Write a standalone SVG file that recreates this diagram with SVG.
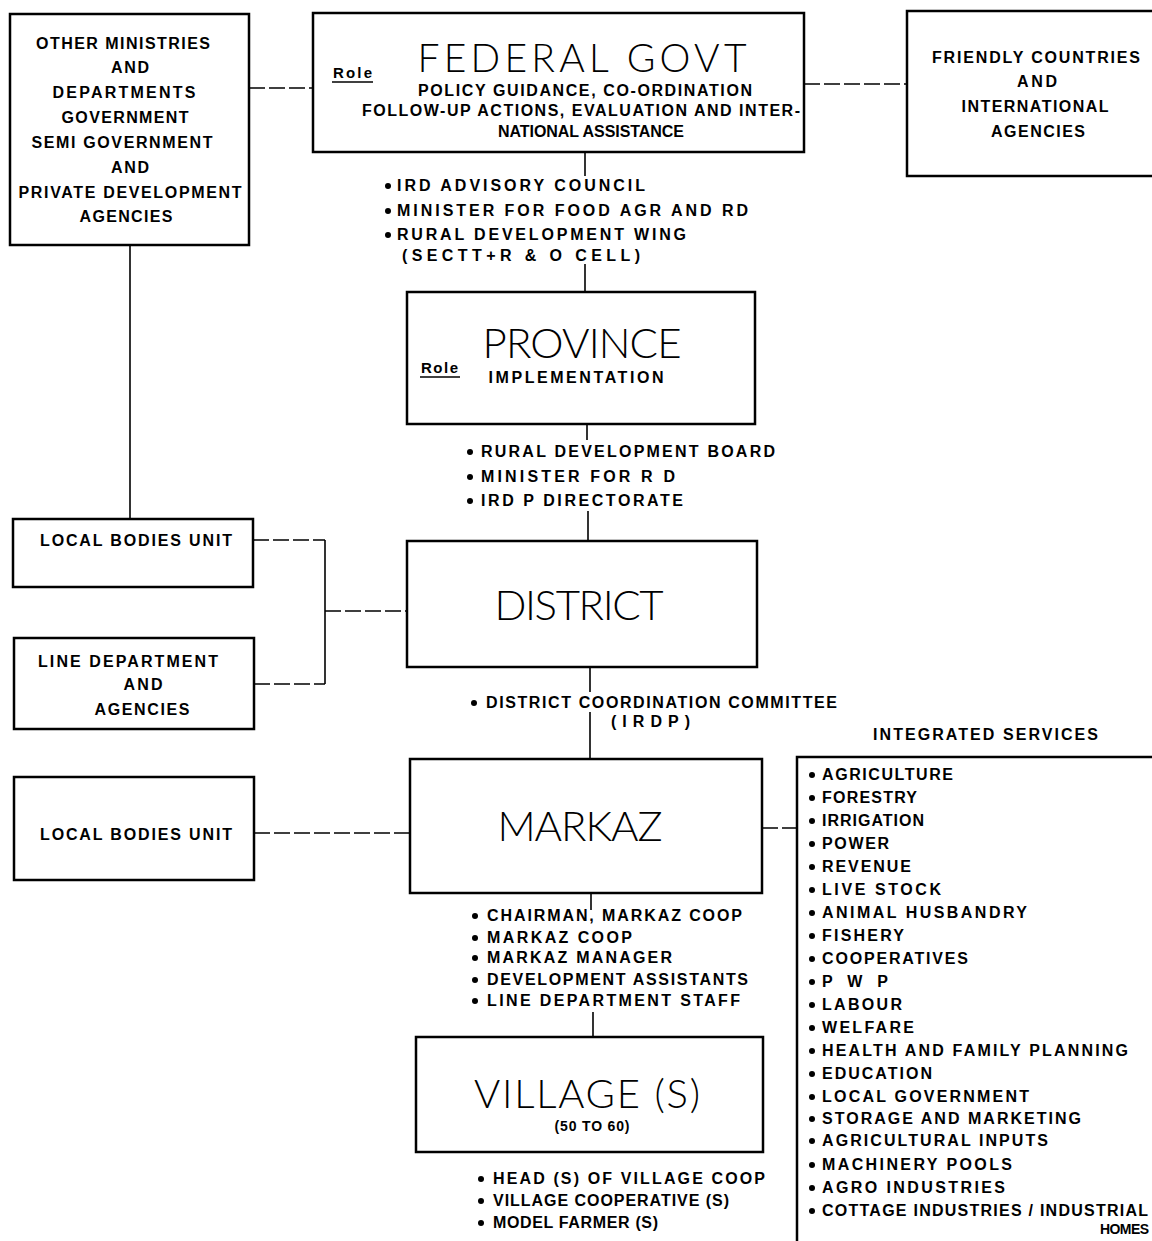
<svg xmlns="http://www.w3.org/2000/svg" width="1152" height="1241" viewBox="0 0 1152 1241">
<style>
.box{fill:#fff;stroke:#000;stroke-width:2.5}
.c{fill:none;stroke:#000;stroke-width:1.6}
.d{stroke-dasharray:16 4}
.t{font-family:"Liberation Sans",Arial,sans-serif;font-weight:bold;font-size:16px;fill:#000}
.m{text-anchor:middle}
.big{font-family:Lato,"DejaVu Sans","Liberation Sans",sans-serif;font-weight:300;font-size:42px;fill:#000;text-anchor:middle}
.b{fill:#000}
</style>
<rect width="1152" height="1241" fill="#fff"/>
<g id="connectors">
<line class="c d" x1="249" y1="88" x2="313" y2="88"/>
<line class="c d" x1="804" y1="84" x2="907" y2="84"/>
<line class="c" x1="585" y1="152" x2="585" y2="176"/>
<line class="c" x1="585" y1="264" x2="585" y2="292"/>
<line class="c" x1="587" y1="424" x2="587" y2="440"/>
<line class="c" x1="588" y1="511" x2="588" y2="541"/>
<line class="c" x1="130" y1="245" x2="130" y2="519"/>
<line class="c d" x1="253" y1="540" x2="325" y2="540"/>
<line class="c" x1="325" y1="540" x2="325" y2="684"/>
<line class="c d" x1="254" y1="684" x2="325" y2="684"/>
<line class="c d" x1="325" y1="611" x2="407" y2="611"/>
<line class="c" x1="590" y1="667" x2="590" y2="692"/>
<line class="c" x1="590" y1="712" x2="590" y2="759"/>
<line class="c d" x1="254" y1="833" x2="410" y2="833"/>
<line class="c d" x1="762" y1="828" x2="797" y2="828"/>
<line class="c" x1="591" y1="893" x2="591" y2="910"/>
<line class="c" x1="593" y1="1012" x2="593" y2="1037"/>
</g>
<g id="other-ministries">
<rect class="box" x="10" y="14" width="239" height="231"/>
<text class="t m" x="123" y="49" textLength="174">OTHER MINISTRIES</text>
<text class="t m" x="130" y="73" textLength="38">AND</text>
<text class="t m" x="124" y="98" textLength="143">DEPARTMENTS</text>
<text class="t m" x="125" y="123" textLength="127">GOVERNMENT</text>
<text class="t m" x="122" y="148" textLength="181">SEMI GOVERNMENT</text>
<text class="t m" x="130" y="173" textLength="38">AND</text>
<text class="t m" x="130" y="198" textLength="223">PRIVATE DEVELOPMENT</text>
<text class="t m" x="126" y="222" textLength="93">AGENCIES</text>
</g>
<g id="federal-govt">
<rect class="box" x="313" y="13" width="491" height="139"/>
<text class="t" x="333" y="78" textLength="39" style="font-size:15px">Role</text>
<line class="c" x1="332" y1="82" x2="373" y2="82"/>
<text class="big" x="582" y="72" textLength="329" style="font-size:39px">FEDERAL GOVT</text>
<text class="t m" x="585" y="96" textLength="334">POLICY GUIDANCE, CO-ORDINATION</text>
<text class="t m" x="581" y="116" textLength="438">FOLLOW-UP ACTIONS, EVALUATION AND INTER-</text>
<text class="t m" x="591" y="137" textLength="186">NATIONAL ASSISTANCE</text>
</g>
<g id="friendly-countries">
<rect class="box" x="907" y="11" width="260" height="165"/>
<text class="t m" x="1036" y="63" textLength="208">FRIENDLY COUNTRIES</text>
<text class="t m" x="1037" y="87" textLength="40">AND</text>
<text class="t m" x="1035" y="112" textLength="147">INTERNATIONAL</text>
<text class="t m" x="1038" y="137" textLength="94">AGENCIES</text>
</g>
<g id="federal-bodies">
<circle class="b" cx="388" cy="186" r="3"/>
<text class="t" x="397" y="191" textLength="248">IRD ADVISORY COUNCIL</text>
<circle class="b" cx="388" cy="211" r="3"/>
<text class="t" x="397" y="216" textLength="351">MINISTER FOR FOOD AGR AND RD</text>
<circle class="b" cx="388" cy="235" r="3"/>
<text class="t" x="397" y="240" textLength="289">RURAL DEVELOPMENT WING</text>
<text class="t" x="402" y="261" textLength="238">(SECTT+R &amp; O CELL)</text>
</g>
<g id="province">
<rect class="box" x="407" y="292" width="348" height="132"/>
<text class="big" x="582" y="358" textLength="199">PROVINCE</text>
<text class="t" x="421" y="373" textLength="37" style="font-size:15px">Role</text>
<line class="c" x1="420" y1="377" x2="460" y2="377"/>
<text class="t m" x="576" y="383" textLength="175">IMPLEMENTATION</text>
</g>
<g id="province-bodies">
<circle class="b" cx="470" cy="452" r="3"/>
<text class="t" x="481" y="457" textLength="294">RURAL DEVELOPMENT BOARD</text>
<circle class="b" cx="470" cy="477" r="3"/>
<text class="t" x="481" y="482" textLength="194">MINISTER FOR R D</text>
<circle class="b" cx="470" cy="501" r="3"/>
<text class="t" x="481" y="506" textLength="202">IRD P DIRECTORATE</text>
</g>
<g id="district">
<rect class="box" x="407" y="541" width="350" height="126"/>
<text class="big" x="579" y="620" textLength="169">DISTRICT</text>
</g>
<g id="local-bodies-1">
<rect class="box" x="13" y="519" width="240" height="68"/>
<text class="t" x="40" y="546" textLength="192">LOCAL BODIES UNIT</text>
</g>
<g id="line-department">
<rect class="box" x="14" y="638" width="240" height="91"/>
<text class="t" x="38" y="667" textLength="180">LINE DEPARTMENT</text>
<text class="t m" x="143" y="690" textLength="39">AND</text>
<text class="t m" x="142" y="715" textLength="95">AGENCIES</text>
</g>
<g id="district-bodies">
<circle class="b" cx="474" cy="703" r="3"/>
<text class="t" x="486" y="708" textLength="351">DISTRICT COORDINATION COMMITTEE</text>
<text class="t" x="611" y="727" textLength="79">(IRDP)</text>
</g>
<g id="markaz">
<rect class="box" x="410" y="759" width="352" height="134"/>
<text class="big" x="580" y="841" textLength="165">MARKAZ</text>
</g>
<g id="local-bodies-2">
<rect class="box" x="14" y="777" width="240" height="103"/>
<text class="t" x="40" y="840" textLength="192">LOCAL BODIES UNIT</text>
</g>
<g id="markaz-bodies">
<circle class="b" cx="475" cy="916" r="3"/>
<text class="t" x="487" y="921" textLength="255">CHAIRMAN, MARKAZ COOP</text>
<circle class="b" cx="475" cy="938" r="3"/>
<text class="t" x="487" y="943" textLength="145">MARKAZ COOP</text>
<circle class="b" cx="475" cy="958" r="3"/>
<text class="t" x="487" y="963" textLength="185">MARKAZ MANAGER</text>
<circle class="b" cx="475" cy="980" r="3"/>
<text class="t" x="487" y="985" textLength="261">DEVELOPMENT ASSISTANTS</text>
<circle class="b" cx="475" cy="1001" r="3"/>
<text class="t" x="487" y="1006" textLength="253">LINE DEPARTMENT STAFF</text>
</g>
<g id="integrated-services">
<text class="t" x="873" y="740" textLength="225">INTEGRATED SERVICES</text>
<rect class="box" x="797" y="757" width="370" height="500"/>
<g>
<circle class="b" cx="812" cy="775" r="3"/><text class="t" x="822" y="780" textLength="131">AGRICULTURE</text>
<circle class="b" cx="812" cy="798" r="3"/><text class="t" x="822" y="803" textLength="95">FORESTRY</text>
<circle class="b" cx="812" cy="821" r="3"/><text class="t" x="822" y="826" textLength="102">IRRIGATION</text>
<circle class="b" cx="812" cy="844" r="3"/><text class="t" x="822" y="849" textLength="67">POWER</text>
<circle class="b" cx="812" cy="867" r="3"/><text class="t" x="822" y="872" textLength="89">REVENUE</text>
<circle class="b" cx="812" cy="890" r="3"/><text class="t" x="822" y="895" textLength="119">LIVE STOCK</text>
<circle class="b" cx="812" cy="913" r="3"/><text class="t" x="822" y="918" textLength="205">ANIMAL HUSBANDRY</text>
<circle class="b" cx="812" cy="936" r="3"/><text class="t" x="822" y="941" textLength="82">FISHERY</text>
<circle class="b" cx="812" cy="959" r="3"/><text class="t" x="822" y="964" textLength="146">COOPERATIVES</text>
<circle class="b" cx="812" cy="982" r="3"/><text class="t" x="822" y="987" textLength="66">P W P</text>
<circle class="b" cx="812" cy="1005" r="3"/><text class="t" x="822" y="1010" textLength="80">LABOUR</text>
<circle class="b" cx="812" cy="1028" r="3"/><text class="t" x="822" y="1033" textLength="92">WELFARE</text>
<circle class="b" cx="812" cy="1051" r="3"/><text class="t" x="822" y="1056" textLength="306">HEALTH AND FAMILY PLANNING</text>
<circle class="b" cx="812" cy="1074" r="3"/><text class="t" x="822" y="1079" textLength="110">EDUCATION</text>
<circle class="b" cx="812" cy="1097" r="3"/><text class="t" x="822" y="1102" textLength="207">LOCAL GOVERNMENT</text>
<circle class="b" cx="812" cy="1119" r="3"/><text class="t" x="822" y="1124" textLength="259">STORAGE AND MARKETING</text>
<circle class="b" cx="812" cy="1141" r="3"/><text class="t" x="822" y="1146" textLength="226">AGRICULTURAL INPUTS</text>
<circle class="b" cx="812" cy="1165" r="3"/><text class="t" x="822" y="1170" textLength="190">MACHINERY POOLS</text>
<circle class="b" cx="812" cy="1188" r="3"/><text class="t" x="822" y="1193" textLength="183">AGRO INDUSTRIES</text>
<circle class="b" cx="812" cy="1211" r="3"/><text class="t" x="822" y="1216" textLength="326">COTTAGE INDUSTRIES / INDUSTRIAL</text>
<text class="t" x="1100" y="1234" textLength="49" style="font-size:14px">HOMES</text>
</g>
</g>
<g id="village">
<rect class="box" x="416" y="1037" width="347" height="115"/>
<text class="big" x="587" y="1108" textLength="226" style="font-size:40px">VILLAGE (S)</text>
<text class="t m" x="592" y="1131" textLength="75" style="font-size:14px">(50 TO 60)</text>
</g>
<g id="village-bodies">
<circle class="b" cx="481" cy="1179" r="3"/>
<text class="t" x="493" y="1184" textLength="272">HEAD (S) OF VILLAGE COOP</text>
<circle class="b" cx="481" cy="1201" r="3"/>
<text class="t" x="493" y="1206" textLength="236">VILLAGE COOPERATIVE (S)</text>
<circle class="b" cx="481" cy="1223" r="3"/>
<text class="t" x="493" y="1228" textLength="165">MODEL FARMER (S)</text>
</g>
</svg>
